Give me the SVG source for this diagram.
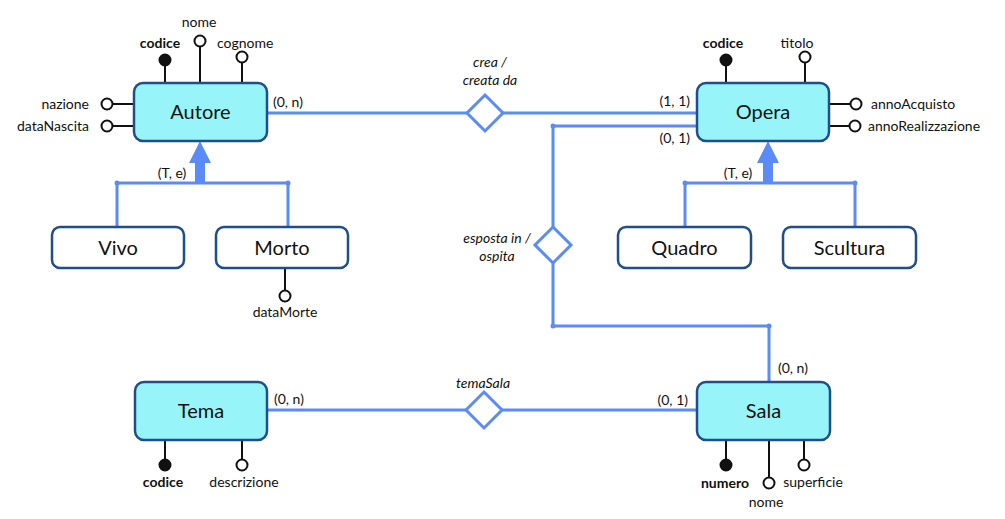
<svg xmlns="http://www.w3.org/2000/svg" width="1005" height="519" viewBox="0 0 1005 519">
<style>
text{font-family:Lato,"Liberation Sans",sans-serif;fill:#111;}
.lbl{font-size:14px;}
.b{font-weight:bold;}
.it{font-style:italic;}
.name{font-size:20px;text-anchor:middle;}
.ent{fill:#97F5FA;stroke:#1F4E8A;stroke-width:2.5;}
.sub{fill:#fff;stroke:#1F4E8A;stroke-width:2.5;}
.att{stroke:#111;stroke-width:2;fill:none;}
.ao{fill:#fff;stroke:#111;stroke-width:2;}
.ak{fill:#111;stroke:#111;stroke-width:2;}
.con{stroke:#5B8BF7;stroke-width:3;fill:none;}
.dia{fill:#fff;stroke:#5B8BF7;stroke-width:3;}
.dot{fill:#5B8BF7;}
.arr{fill:#5B8BF7;}
.m{text-anchor:middle;}
.e{text-anchor:end;}
</style>

<g id="connectors">
  <line class="con" x1="267" y1="113" x2="467" y2="113"/>
  <line class="con" x1="503" y1="113" x2="697" y2="113"/>
  <polyline class="con" points="697,126 553,126 553,227"/>
  <polyline class="con" points="553,263 553,326 769,326 769,382"/>
  <circle class="dot" cx="553" cy="126" r="2.5"/>
  <circle class="dot" cx="553" cy="326" r="2.5"/>
  <circle class="dot" cx="769" cy="326" r="2.5"/>
  <line class="con" x1="267" y1="410" x2="466" y2="410"/>
  <line class="con" x1="502" y1="410" x2="697" y2="410"/>
  <polyline class="con" points="117,227 117,183 288,183 288,227"/>
  <circle class="dot" cx="117" cy="183" r="2.5"/>
  <circle class="dot" cx="288" cy="183" r="2.5"/>
  <polygon class="arr" points="195,183 195,163 189,163 200,141 211,163 205,163 205,183"/>
  <polyline class="con" points="685,227 685,183 855,183 855,227"/>
  <circle class="dot" cx="685" cy="183" r="2.5"/>
  <circle class="dot" cx="855" cy="183" r="2.5"/>
  <polygon class="arr" points="763,183 763,163 757,163 768,141 779,163 773,163 773,183"/>
  <text class="lbl" x="273" y="107">(0, n)</text>
  <text class="lbl e" x="690" y="106">(1, 1)</text>
  <text class="lbl e" x="690" y="143">(0, 1)</text>
  <text class="lbl m" x="172" y="178">(T, e)</text>
  <text class="lbl m" x="738" y="178">(T, e)</text>
  <text class="lbl" x="274" y="404">(0, n)</text>
  <text class="lbl e" x="688" y="405">(0, 1)</text>
  <text class="lbl" x="778" y="373">(0, n)</text>
</g>

<g id="rel-crea">
  <polygon class="dia" points="485,95 503,113 485,131 467,113"/>
  <text class="lbl it m" x="490" y="67">crea /</text>
  <text class="lbl it m" x="490" y="85">creata da</text>
</g>

<g id="rel-esposta">
  <polygon class="dia" points="553,227 571,245 553,263 535,245"/>
  <text class="lbl it m" x="497" y="243">esposta in /</text>
  <text class="lbl it m" x="497" y="261">ospita</text>
</g>

<g id="rel-temaSala">
  <polygon class="dia" points="484,392 502,410 484,428 466,410"/>
  <text class="lbl it m" x="483" y="388">temaSala</text>
</g>

<g id="Autore">
  <line class="att" x1="165" y1="83" x2="165" y2="66"/>
  <circle class="ak" cx="165" cy="60" r="5.5"/>
  <text class="lbl b m" x="160" y="48">codice</text>
  <line class="att" x1="200" y1="83" x2="200" y2="47"/>
  <circle class="ao" cx="200" cy="41" r="5.5"/>
  <text class="lbl m" x="199" y="27">nome</text>
  <line class="att" x1="242" y1="83" x2="242" y2="63"/>
  <circle class="ao" cx="242" cy="57" r="5.5"/>
  <text class="lbl" x="217" y="48">cognome</text>
  <line class="att" x1="134" y1="104" x2="113" y2="104"/>
  <circle class="ao" cx="107" cy="104" r="5.5"/>
  <text class="lbl e" x="89" y="109">nazione</text>
  <line class="att" x1="134" y1="126" x2="113" y2="126"/>
  <circle class="ao" cx="107" cy="126" r="5.5"/>
  <text class="lbl e" x="89" y="131">dataNascita</text>
  <rect class="ent" x="134" y="83" width="133" height="58" rx="9"/>
  <text class="name" x="200.5" y="119">Autore</text>
</g>

<g id="Opera">
  <line class="att" x1="726" y1="83" x2="726" y2="66"/>
  <circle class="ak" cx="726" cy="60" r="5.5"/>
  <text class="lbl b m" x="723" y="48">codice</text>
  <line class="att" x1="805" y1="83" x2="805" y2="63"/>
  <circle class="ao" cx="805" cy="57" r="5.5"/>
  <text class="lbl m" x="797" y="48">titolo</text>
  <line class="att" x1="829" y1="104" x2="850" y2="104"/>
  <circle class="ao" cx="856" cy="104" r="5.5"/>
  <text class="lbl" x="871" y="109">annoAcquisto</text>
  <line class="att" x1="829" y1="126" x2="849" y2="126"/>
  <circle class="ao" cx="855" cy="126" r="5.5"/>
  <text class="lbl" x="868" y="131">annoRealizzazione</text>
  <rect class="ent" x="697" y="83" width="132" height="58" rx="9"/>
  <text class="name" x="763" y="119">Opera</text>
</g>

<g id="Vivo">
  <rect class="sub" x="52" y="227" width="132" height="41" rx="8"/>
  <text class="name" x="118" y="255">Vivo</text>
</g>

<g id="Morto">
  <line class="att" x1="285" y1="268" x2="285" y2="290"/>
  <circle class="ao" cx="285" cy="296" r="5.5"/>
  <text class="lbl m" x="285" y="317">dataMorte</text>
  <rect class="sub" x="216" y="227" width="132" height="41" rx="8"/>
  <text class="name" x="282" y="255">Morto</text>
</g>

<g id="Quadro">
  <rect class="sub" x="618" y="227" width="133" height="41" rx="8"/>
  <text class="name" x="684.5" y="255">Quadro</text>
</g>

<g id="Scultura">
  <rect class="sub" x="783" y="227" width="133" height="41" rx="8"/>
  <text class="name" x="849.5" y="255">Scultura</text>
</g>

<g id="Tema">
  <line class="att" x1="165" y1="440" x2="165" y2="459"/>
  <circle class="ak" cx="165" cy="465" r="5.5"/>
  <text class="lbl b m" x="163" y="487">codice</text>
  <line class="att" x1="242" y1="440" x2="242" y2="459"/>
  <circle class="ao" cx="242" cy="465" r="5.5"/>
  <text class="lbl m" x="244" y="487">descrizione</text>
  <rect class="ent" x="135" y="382" width="132" height="58" rx="9"/>
  <text class="name" x="201" y="418">Tema</text>
</g>

<g id="Sala">
  <line class="att" x1="726" y1="440" x2="726" y2="459"/>
  <circle class="ak" cx="726" cy="465" r="5.5"/>
  <text class="lbl b m" x="725" y="488">numero</text>
  <line class="att" x1="769" y1="440" x2="769" y2="477"/>
  <circle class="ao" cx="769" cy="483" r="5.5"/>
  <text class="lbl m" x="766" y="507">nome</text>
  <line class="att" x1="804" y1="440" x2="804" y2="459"/>
  <circle class="ao" cx="804" cy="465" r="5.5"/>
  <text class="lbl m" x="813" y="487">superficie</text>
  <rect class="ent" x="697" y="382" width="133" height="58" rx="9"/>
  <text class="name" x="763.5" y="418">Sala</text>
</g>
</svg>
